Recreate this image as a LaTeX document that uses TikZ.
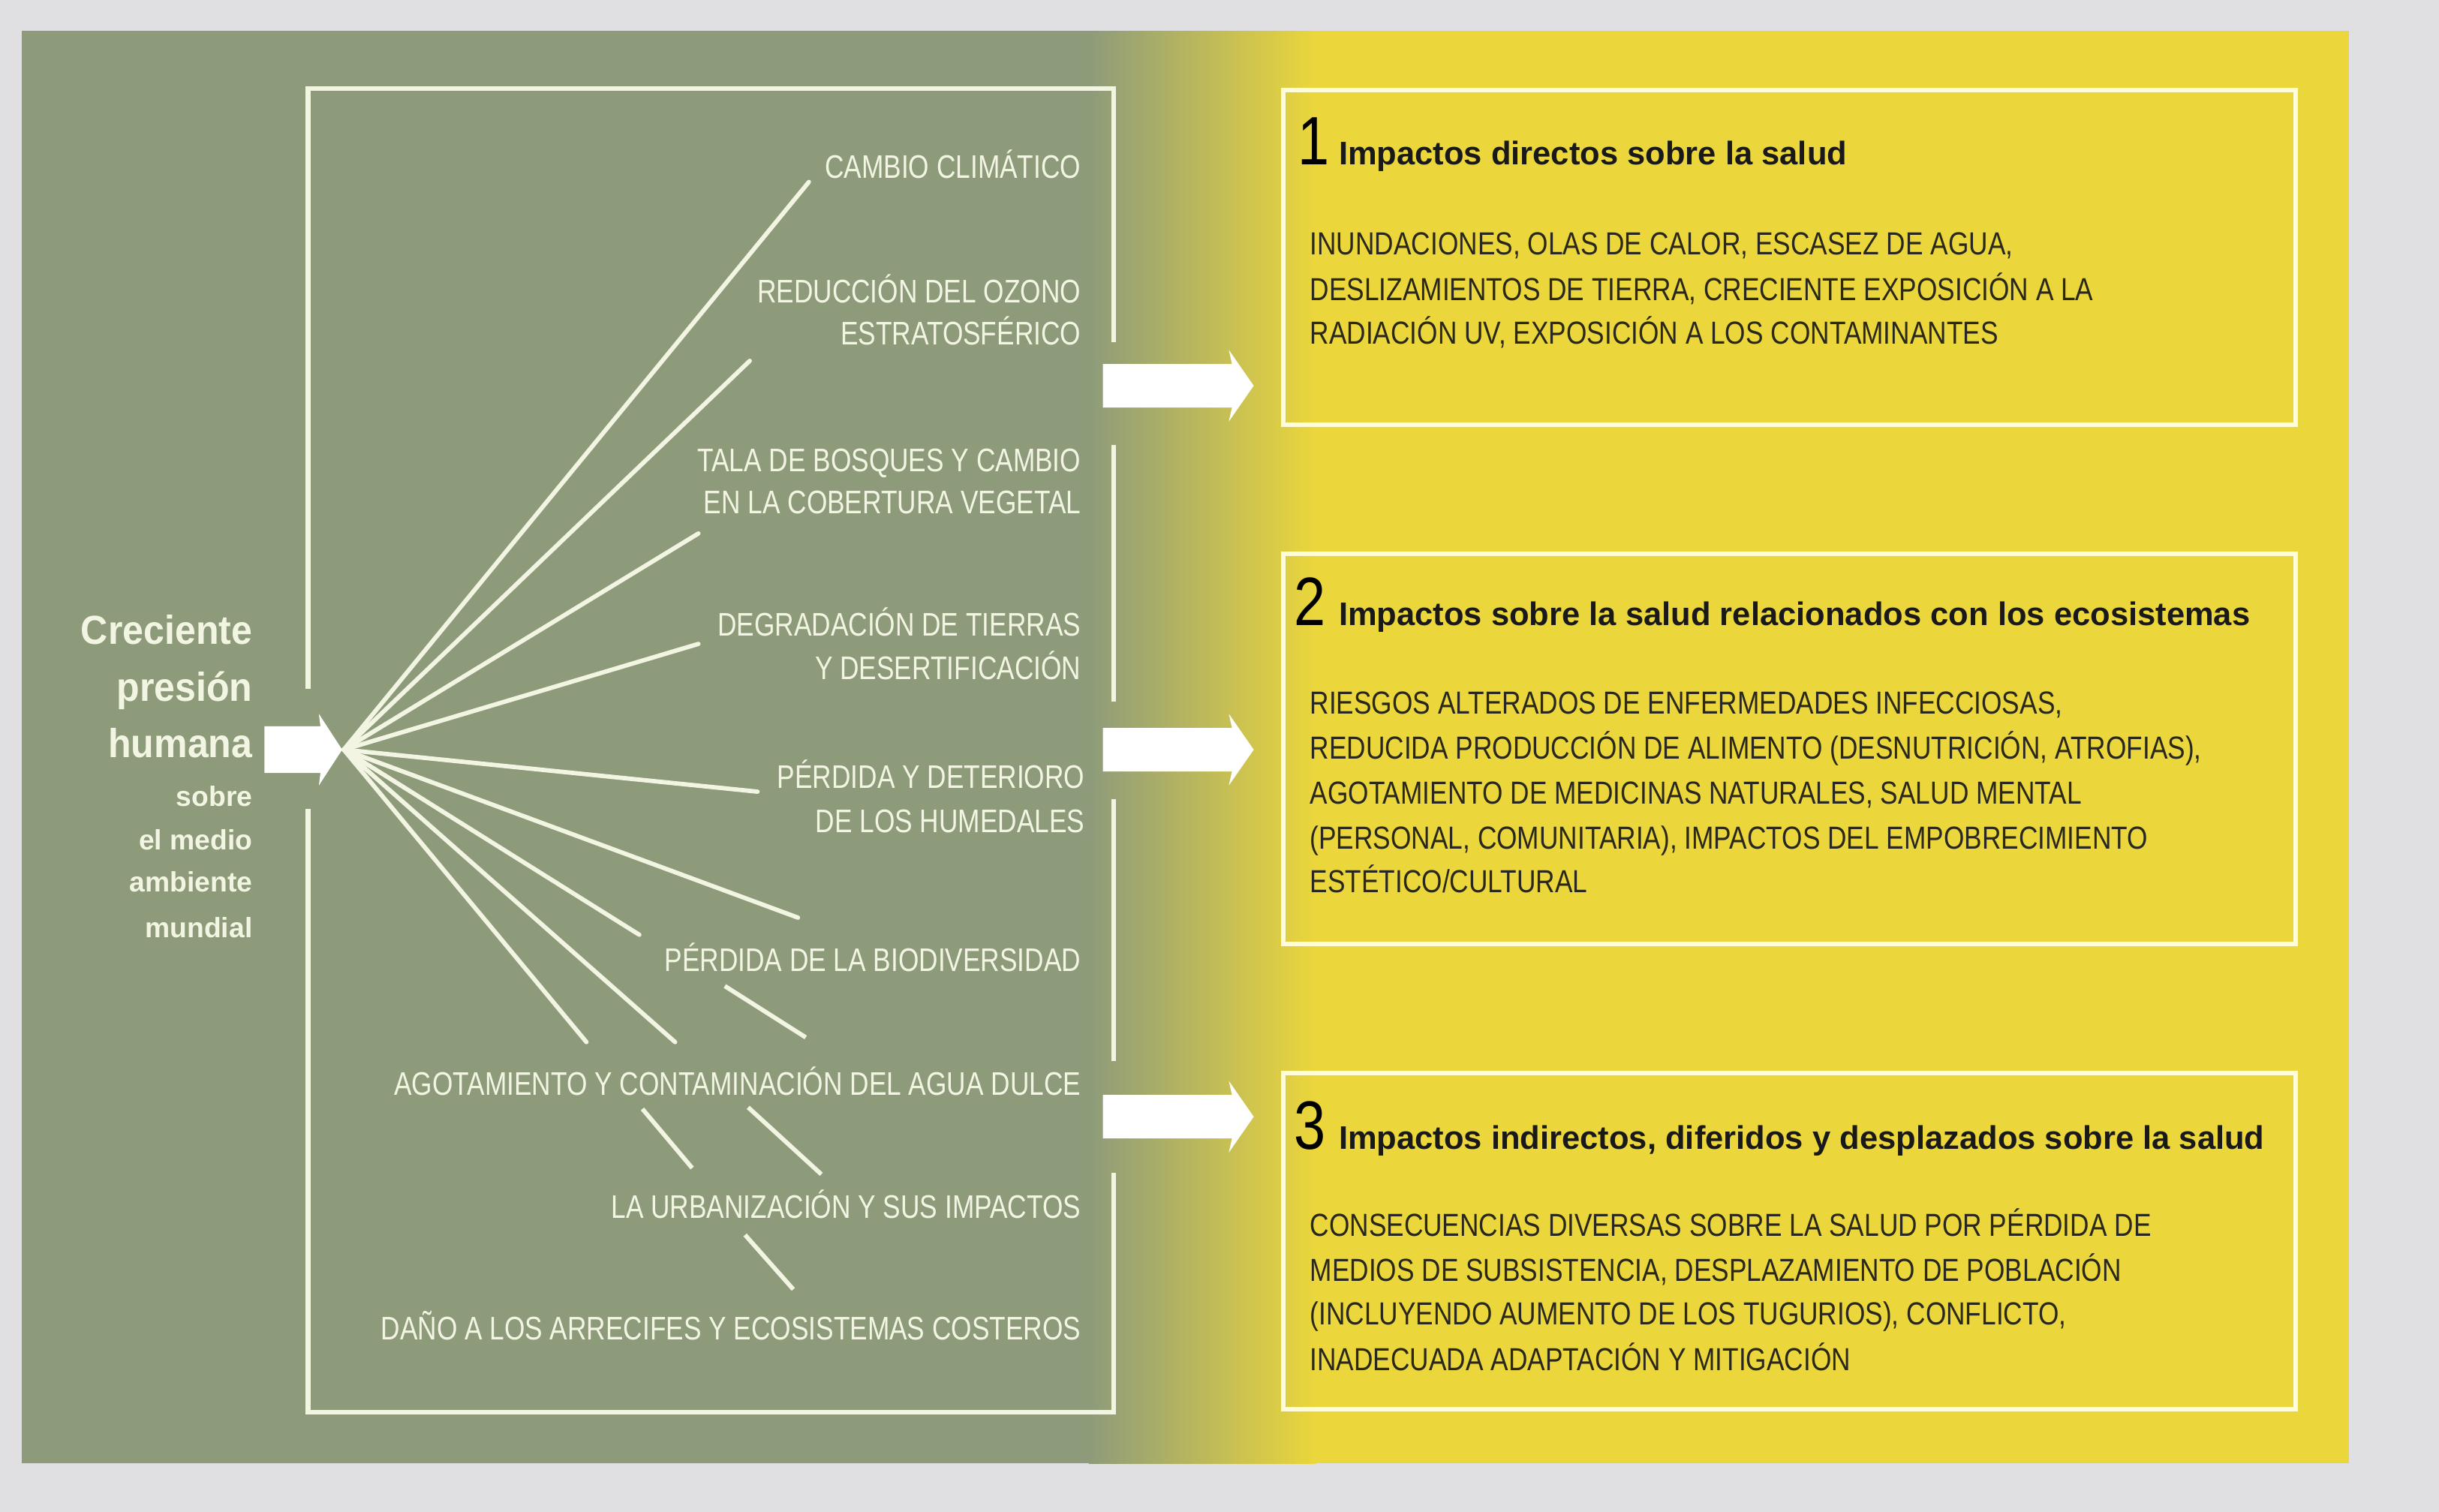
\documentclass[tikz,border=0pt]{standalone}
\usepackage{fontspec}
\setmainfont{Liberation Sans}
\newfontfamily\lblfont{Liberation Sans}[FakeStretch=0.81]
\newfontfamily\bodyfont{Liberation Sans}[FakeStretch=0.83]
\newfontfamily\leftfont{Liberation Sans}[FakeStretch=0.93]
\definecolor{bgray}{HTML}{E0E0E2}
\definecolor{sage}{HTML}{8D9B7B}
\definecolor{ochre}{HTML}{EBD63B}
\definecolor{cream}{HTML}{F3F5E3}
\definecolor{darktxt}{HTML}{2A281C}
\begin{document}
\begin{tikzpicture}[x=1pt,y=-1pt,
  frameline/.style={draw=cream,line width=3pt},
  fanline/.style={draw=cream,line width=2.8pt},
  boxline/.style={draw=white!85!yellow,line width=3pt},
  lbl/.style={inner sep=0pt,text=cream,font=\lblfont\fontsize{21}{25}\selectfont,anchor=base east},
  bigleft/.style={inner sep=0pt,text=cream,font=\leftfont\bfseries\fontsize{26}{30}\selectfont,anchor=base east},
  smallleft/.style={inner sep=0pt,text=cream,font=\bfseries\fontsize{18}{20}\selectfont,anchor=base east},
  num/.style={inner sep=0pt,text=black,font=\bodyfont\fontsize{44}{48}\selectfont,anchor=base west},
  head/.style={inner sep=0pt,text=black!90,font=\bfseries\fontsize{21}{25}\selectfont,anchor=base west},
  body/.style={inner sep=0pt,text=darktxt,font=\bodyfont\fontsize{20.5}{25}\selectfont,anchor=base west},
  blockarrow/.pic={\fill[white] (0,-14) -- (83,-14) -- (81,-23) -- (97,0) -- (81,23) -- (83,14) -- (0,14) -- cycle;}
]
\useasboundingbox (0,0) rectangle (1568,972);
% background and panel
\fill[bgray] (0,0) rectangle (1568,972);
\fill[sage] (14,20) rectangle (701,941);
\shade[left color=sage,right color=ochre] (700,20) rectangle (846,941);
\fill[ochre] (845,20) rectangle (1510,941);

% frame
\draw[frameline] (198,443) -- (198,57) -- (716,57) -- (716,220);
\draw[frameline] (716,286) -- (716,451);
\draw[frameline] (716,514) -- (716,682);
\draw[frameline] (198,520) -- (198,908) -- (716,908) -- (716,754);

% left text
\node[bigleft] (t1) at (162.5,414) {Creciente};
\node[bigleft] (t2) at (162.5,451) {presión};
\node[bigleft] (t3) at (162.5,487) {humana};
\node[smallleft] (t4) at (162.5,518.5) {sobre};
\node[smallleft] (t5) at (162.5,546.5) {el medio};
\node[smallleft] (t6) at (162.5,573.5) {ambiente};
\node[smallleft] (t7) at (162.5,603) {mundial};

% left arrow
\fill[white] (170,467) -- (206,467) -- (205,459) -- (220,482) -- (205,505) -- (206,497) -- (170,497) -- cycle;

% fan
\coordinate (o) at (221,482);
\coordinate (e1) at (520,117);
\coordinate (e2) at (482,232);
\coordinate (e3) at (449,343);
\coordinate (e4) at (449,414);
\coordinate (e5) at (487,509);
\coordinate (e6) at (513,590);
\coordinate (e7) at (411,601);
\coordinate (e8) at (434,670);
\coordinate (e9) at (377,670);
\foreach \e in {e1,e2,e3,e4,e5,e6,e7,e8,e9} \draw[fanline,line cap=round] (o) -- (\e);
\coordinate (d1a) at (466,634); \coordinate (d1b) at (518,667);
\coordinate (d2a) at (413,713); \coordinate (d2b) at (445,751);
\coordinate (d3a) at (481,712); \coordinate (d3b) at (528,755);
\coordinate (d4a) at (479,794); \coordinate (d4b) at (510,829);
\draw[fanline] (d1a) -- (d1b);
\draw[fanline] (d2a) -- (d2b);
\draw[fanline] (d3a) -- (d3b);
\draw[fanline] (d4a) -- (d4b);

% labels
\node[lbl] (l1) at (695,114.5) {CAMBIO CLIMÁTICO};
\node[lbl] (l2a) at (695,194.5) {REDUCCIÓN DEL OZONO};
\node[lbl] (l2b) at (695,221.5) {ESTRATOSFÉRICO};
\node[lbl] (l3a) at (695,303) {TALA DE BOSQUES Y CAMBIO};
\node[lbl] (l3b) at (695,330) {EN LA COBERTURA VEGETAL};
\node[lbl] (l4a) at (695,409) {DEGRADACIÓN DE TIERRAS};
\node[lbl] (l4b) at (695,437) {Y DESERTIFICACIÓN};
\node[lbl] (l5a) at (697.5,507) {PÉRDIDA Y DETERIORO};
\node[lbl] (l5b) at (697.5,535.5) {DE LOS HUMEDALES};
\node[lbl] (l6) at (695,624.5) {PÉRDIDA DE LA BIODIVERSIDAD};
\node[lbl] (l7) at (695,704) {AGOTAMIENTO Y CONTAMINACIÓN DEL AGUA DULCE};
\node[lbl] (l8) at (695,783.5) {LA URBANIZACIÓN Y SUS IMPACTOS};
\node[lbl] (l9) at (695,861.5) {DAÑO A LOS ARRECIFES Y ECOSISTEMAS COSTEROS};

% right arrows
\pic at (709,248) {blockarrow};
\pic at (709,482) {blockarrow};
\pic at (709,718) {blockarrow};

% boxes
\draw[boxline] (825,58) rectangle (1476,273);
\draw[boxline] (825,356) rectangle (1476,607);
\draw[boxline] (825,690) rectangle (1476,906);

\node[num] (n1) at (834,106) {1};
\node[head] (h1) at (860.5,106) {Impactos directos sobre la salud};
\node[body] (b1a) at (842,164) {INUNDACIONES, OLAS DE CALOR, ESCASEZ DE AGUA,};
\node[body] (b1b) at (842,193) {DESLIZAMIENTOS DE TIERRA, CRECIENTE EXPOSICIÓN A LA};
\node[body] (b1c) at (842,221) {RADIACIÓN UV, EXPOSICIÓN A LOS CONTAMINANTES};

\node[num] (n2) at (832,402) {2};
\node[head] (h2) at (860.5,402) {Impactos sobre la salud relacionados con los ecosistemas};
\node[body] (b2a) at (842,459) {RIESGOS ALTERADOS DE ENFERMEDADES INFECCIOSAS,};
\node[body] (b2b) at (842,488) {REDUCIDA PRODUCCIÓN DE ALIMENTO (DESNUTRICIÓN, ATROFIAS),};
\node[body] (b2c) at (842,517) {AGOTAMIENTO DE MEDICINAS NATURALES, SALUD MENTAL};
\node[body] (b2d) at (842,546) {(PERSONAL, COMUNITARIA), IMPACTOS DEL EMPOBRECIMIENTO};
\node[body] (b2e) at (842,574) {ESTÉTICO/CULTURAL};

\node[num] (n3) at (832,739) {3};
\node[head] (h3) at (860.5,739) {Impactos indirectos, diferidos y desplazados sobre la salud};
\node[body] (b3a) at (842,795) {CONSECUENCIAS DIVERSAS SOBRE LA SALUD POR PÉRDIDA DE};
\node[body] (b3b) at (842,824) {MEDIOS DE SUBSISTENCIA, DESPLAZAMIENTO DE POBLACIÓN};
\node[body] (b3c) at (842,852) {(INCLUYENDO AUMENTO DE LOS TUGURIOS), CONFLICTO,};
\node[body] (b3d) at (842,881) {INADECUADA ADAPTACIÓN Y MITIGACIÓN};
\end{tikzpicture}
\end{document}
